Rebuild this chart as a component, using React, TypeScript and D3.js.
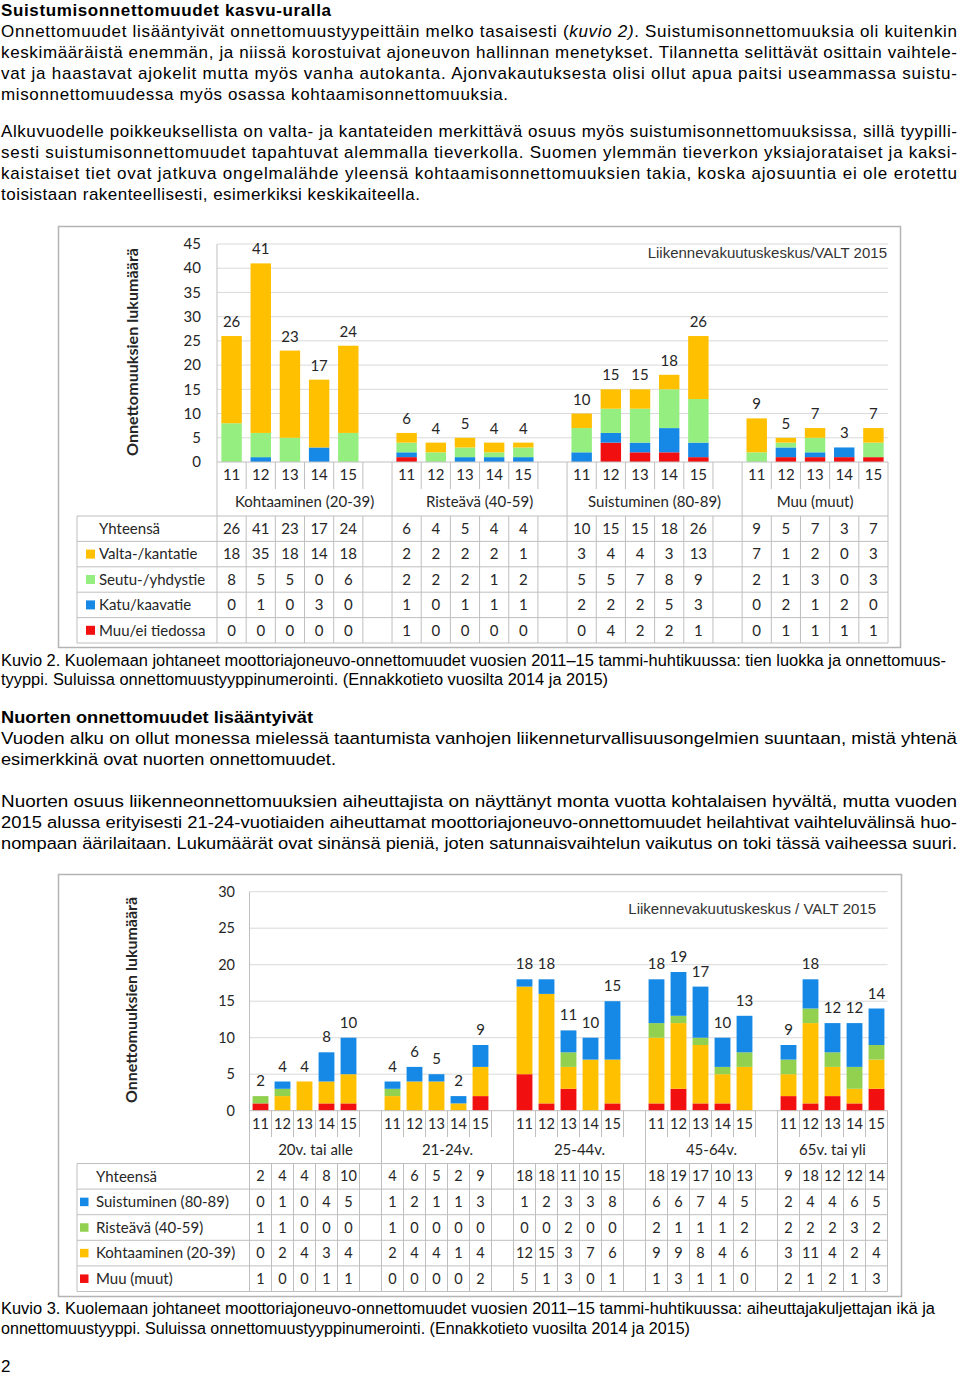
import React from "react";
import * as d3 from "d3";

// ---------- DATA ----------
const years = ["11", "12", "13", "14", "15"];

// Kuvio 2
const roadGroups = ["Kohtaaminen (20-39)", "Risteävä (40-59)", "Suistuminen (80-89)", "Muu (muut)"];
const roadTotals = [26, 41, 23, 17, 24, 6, 4, 5, 4, 4, 10, 15, 15, 18, 26, 9, 5, 7, 3, 7];
const valtaKanta = [18, 35, 18, 14, 18, 2, 2, 2, 2, 1, 3, 4, 4, 3, 13, 7, 1, 2, 0, 3];
const seutuYhdys = [8, 5, 5, 0, 6, 2, 2, 2, 1, 2, 5, 5, 7, 8, 9, 2, 1, 3, 0, 3];
const katuKaava = [0, 1, 0, 3, 0, 1, 0, 1, 1, 1, 2, 2, 2, 5, 3, 0, 2, 1, 2, 0];
const muuEiTiedossa = [0, 0, 0, 0, 0, 1, 0, 0, 0, 0, 0, 4, 2, 2, 1, 0, 1, 1, 1, 1];

// Kuvio 3
const ageGroups = ["20v. tai alle", "21-24v.", "25-44v.", "45-64v.", "65v. tai yli"];
const ageTotals = [2, 4, 4, 8, 10, 4, 6, 5, 2, 9, 18, 18, 11, 10, 15, 18, 19, 17, 10, 13, 9, 18, 12, 12, 14];
const suistuminen = [0, 1, 0, 4, 5, 1, 2, 1, 1, 3, 1, 2, 3, 3, 8, 6, 6, 7, 4, 5, 2, 4, 4, 6, 5];
const risteava = [1, 1, 0, 0, 0, 1, 0, 0, 0, 0, 0, 0, 2, 0, 0, 2, 1, 1, 1, 2, 2, 2, 2, 3, 2];
const kohtaaminen = [0, 2, 4, 3, 4, 2, 4, 4, 1, 4, 12, 15, 3, 7, 6, 9, 9, 8, 4, 6, 3, 11, 4, 2, 4];
const muuMuut = [1, 0, 0, 1, 1, 0, 0, 0, 0, 2, 5, 1, 3, 0, 1, 1, 3, 1, 1, 0, 2, 1, 2, 1, 3];

// ---------- STYLE ----------
const BODY = '"Liberation Sans", Arial, Helvetica, sans-serif';
const NARROW = '"Liberation Sans Narrow", "Liberation Sans", Arial, sans-serif';
const CHART = 'Lato, Carlito, Calibri, "Open Sans", sans-serif';
const YELLOW = "#FFC000";
const GREEN1 = "#95EE80";
const GREEN2 = "#92D050";
const BLUE = "#1689E6";
const RED = "#F20F0F";
const GRID = "#d9d9d9";
const AXIS = "#bfbfbf";

type Series = { name: string; color: string | null; values: number[] };

type Slot = { key: string; group: number; year: string | null; di: number };

function buildSlots(groups: string[]): Slot[] {
  const slots: Slot[] = [];
  let di = 0;
  groups.forEach((g, gi) => {
    years.forEach((yr) => slots.push({ key: `${gi}-${yr}`, group: gi, year: yr, di: di++ }));
    if (gi < groups.length - 1) slots.push({ key: `${gi}-b`, group: gi, year: null, di: -1 });
  });
  return slots;
}

function StackedChart(props: any) {
  const { L, groups, rows, totals, yMax, yStep, source, fs, tfs, labelOffset, title } = props;
  const slots = buildSlots(groups);
  const x = d3.scaleBand<string>().domain(slots.map((s) => s.key)).range([L.plotLeft, L.plotRight]);
  const y = d3.scaleLinear().domain([0, yMax]).range([L.y0, L.yTop]);
  const step = x.bandwidth();
  const barW = step * L.barFrac;
  const series: Series[] = rows.slice(1);
  const stackOrder = [...series].reverse();
  const dataSlots = slots.filter((s) => s.di >= 0);
  const dataRows = dataSlots.map((s) => {
    const o: any = { key: s.key };
    stackOrder.forEach((se) => (o[se.name] = se.values[s.di]));
    return o;
  });
  const layers = d3.stack<any>().keys(stackOrder.map((s) => s.name))(dataRows);
  const tableBottom = L.tableTop + L.rowH * rows.length;
  const ticks = d3.range(0, yMax + 1, yStep);

  const boundaries = slots.slice(1).map((s, i) => ({
    x: x(s.key)!,
    group: slots[i].year === null,
  }));

  return (
    <g>
      <rect x={L.fx} y={L.fy} width={L.fw} height={L.fh} fill="#fff" stroke="#b4b4b4" strokeWidth={1.5} />
      {ticks.filter((t) => t > 0).map((t) => (
        <line key={t} x1={L.plotLeft} x2={L.plotRight} y1={y(t)} y2={y(t)} stroke={GRID} />
      ))}
      {ticks.map((t) => (
        <text key={t} x={L.yLabelX} y={y(t)} dy="0.35em" textAnchor="end" fontFamily={CHART} fontSize={fs} fill="#262626">
          {t}
        </text>
      ))}
      <text
        transform={`translate(${L.titleX},${L.titleY}) rotate(-90)`}
        textAnchor="middle"
        dy="0.35em"
        fontFamily={CHART}
        fontWeight="bold"
        fontSize={15}
        fill="#262626"
        textLength={L.titleLen}
        lengthAdjust="spacingAndGlyphs"
      >
        {title}
      </text>
      <text x={L.srcX} y={L.srcY} textAnchor="end" fontFamily={BODY} fontSize={15} fill="#333">
        {source}
      </text>
      {layers.map((layer, li) => (
        <g key={layer.key} fill={stackOrder[li].color!}>
          {layer.map((d, i) =>
            d[1] - d[0] > 0 ? (
              <rect
                key={i}
                x={x(dataSlots[i].key)! + (step - barW) / 2}
                width={barW}
                y={y(d[1])}
                height={y(d[0]) - y(d[1])}
              />
            ) : null
          )}
        </g>
      ))}
      {dataSlots.map((s) => (
        <text
          key={s.key}
          x={x(s.key)! + step / 2}
          y={y(totals[s.di]) - labelOffset}
          textAnchor="middle"
          fontFamily={CHART}
          fontSize={15}
          fill="#262626"
        >
          {totals[s.di]}
        </text>
      ))}
      {/* axes / category lines */}
      <line x1={L.plotLeft} x2={L.plotRight} y1={L.y0} y2={L.y0} stroke={AXIS} />
      <line x1={L.plotLeft} x2={L.plotLeft} y1={L.yTop} y2={tableBottom} stroke={AXIS} />
      <line x1={L.plotRight} x2={L.plotRight} y1={L.y0} y2={tableBottom} stroke={AXIS} />
      {boundaries.map((b, i) => (
        <g key={i}>
          <line x1={b.x} x2={b.x} y1={L.y0} y2={b.group ? tableBottom : L.yearBottom} stroke={AXIS} />
          {!b.group && <line x1={b.x} x2={b.x} y1={L.tableTop} y2={tableBottom} stroke={AXIS} />}
        </g>
      ))}
      {dataSlots.map((s) => (
        <text key={s.key} x={x(s.key)! + step / 2} y={L.yearY} dy="0.35em" textAnchor="middle" fontFamily={CHART} fontSize={fs} fill="#262626">
          {s.year}
        </text>
      ))}
      {groups.map((g: string, gi: number) => {
        const gs = slots.filter((s) => s.group === gi);
        const x0 = x(gs[0].key)!;
        const x1 = x(gs[gs.length - 1].key)! + step;
        return (
          <text key={g} x={(x0 + x1) / 2} y={L.groupY} dy="0.35em" textAnchor="middle" fontFamily={CHART} fontSize={15} fill="#262626">
            {g}
          </text>
        );
      })}
      {/* data table */}
      {d3.range(rows.length + 1).map((r) => (
        <line key={r} x1={L.tableLeft} x2={L.plotRight} y1={L.tableTop + r * L.rowH} y2={L.tableTop + r * L.rowH} stroke={AXIS} />
      ))}
      <line x1={L.tableLeft} x2={L.tableLeft} y1={L.tableTop} y2={tableBottom} stroke={AXIS} />
      {rows.map((row: Series, r: number) => {
        const cy = L.tableTop + (r + 0.5) * L.rowH;
        return (
          <g key={row.name}>
            {row.color && (
              <rect x={L.markX} y={cy - L.markS / 2} width={L.markS} height={L.markS} fill={row.color} />
            )}
            <text x={L.rowLabelX} y={cy} dy="0.35em" fontFamily={CHART} fontSize={15} fill="#262626">
              {row.name}
            </text>
            {dataSlots.map((s) => (
              <text key={s.key} x={x(s.key)! + step / 2} y={cy} dy="0.35em" textAnchor="middle" fontFamily={CHART} fontSize={tfs} fill="#262626">
                {row.values[s.di]}
              </text>
            ))}
          </g>
        );
      })}
    </g>
  );
}

type Part = [string, string];
function Prose({ y, w, parts, font, size, bold, adjust, sx = 1 }: any) {
  return (
    <g transform={`scale(${sx},1)`}>
      <text
        x={1 / sx}
        y={y}
        textLength={(w - 1) / sx}
        lengthAdjust={adjust}
        fontFamily={font}
        fontSize={size}
        fontWeight={bold ? "bold" : "normal"}
        fill="#000"
      >
        {(parts as Part[]).map((p, i) => (
          <tspan key={i} fontStyle={p[1] === "i" ? "italic" : "normal"}>
            {p[0]}
          </tspan>
        ))}
      </text>
    </g>
  );
}

const topLines: any[] = [
  { y: 16, w: 331, bold: true, parts: [["Suistumisonnettomuudet kasvu-uralla", ""]] },
  { y: 37, w: 957, parts: [["Onnettomuudet lisääntyivät onnettomuustyypeittäin melko tasaisesti (", ""], ["kuvio 2)", "i"], [". Suistumisonnettomuuksia oli kuitenkin", ""]] },
  { y: 58, w: 957, parts: [["keskimääräistä enemmän, ja niissä korostuivat ajoneuvon hallinnan menetykset. Tilannetta selittävät osittain vaihtele-", ""]] },
  { y: 79, w: 957, parts: [["vat ja haastavat ajokelit mutta myös vanha autokanta. Ajonvakautuksesta olisi ollut apua paitsi useammassa suistu-", ""]] },
  { y: 100, w: 508, parts: [["misonnettomuudessa myös osassa kohtaamisonnettomuuksia.", ""]] },
  { y: 137, w: 957, parts: [["Alkuvuodelle poikkeuksellista on valta- ja kantateiden merkittävä osuus myös suistumisonnettomuuksissa, sillä tyypilli-", ""]] },
  { y: 158, w: 957, parts: [["sesti suistumisonnettomuudet tapahtuvat alemmalla tieverkolla. Suomen ylemmän tieverkon yksiajorataiset ja kaksi-", ""]] },
  { y: 179, w: 957, parts: [["kaistaiset tiet ovat jatkuva ongelmalähde yleensä kohtaamisonnettomuuksien takia, koska ajosuuntia ei ole erotettu", ""]] },
  { y: 200, w: 420, parts: [["toisistaan rakenteellisesti, esimerkiksi keskikaiteella.", ""]] },
];

const narrowLines: any[] = [
  { y: 666, w: 946, parts: [["Kuvio 2. Kuolemaan johtaneet moottoriajoneuvo-onnettomuudet vuosien 2011–15 tammi-huhtikuussa: tien luokka ja onnettomuus-", ""]] },
  { y: 685, w: 608, parts: [["tyyppi. Suluissa onnettomuustyyppinumerointi. (Ennakkotieto vuosilta 2014 ja 2015)", ""]] },
  { y: 723, w: 313, bold: true, parts: [["Nuorten onnettomuudet lisääntyivät", ""]] },
  { y: 744, w: 957, parts: [["Vuoden alku on ollut monessa mielessä taantumista vanhojen liikenneturvallisuusongelmien suuntaan, mistä yhtenä", ""]] },
  { y: 765, w: 336, parts: [["esimerkkinä ovat nuorten onnettomuudet.", ""]] },
  { y: 807, w: 957, parts: [["Nuorten osuus liikenneonnettomuuksien aiheuttajista on näyttänyt monta vuotta kohtalaisen hyvältä, mutta vuoden", ""]] },
  { y: 828, w: 957, parts: [["2015 alussa erityisesti 21-24-vuotiaiden aiheuttamat moottoriajoneuvo-onnettomuudet heilahtivat vaihteluvälinsä huo-", ""]] },
  { y: 849, w: 957, parts: [["nompaan äärilaitaan. Lukumäärät ovat sinänsä pieniä, joten satunnaisvaihtelun vaikutus on toki tässä vaiheessa suuri.", ""]] },
  { y: 1314, w: 935, parts: [["Kuvio 3. Kuolemaan johtaneet moottoriajoneuvo-onnettomuudet vuosien 2011–15 tammi-huhtikuussa: aiheuttajakuljettajan ikä ja", ""]] },
  { y: 1334, w: 690, parts: [["onnettomuustyyppi. Suluissa onnettomuustyyppinumerointi. (Ennakkotieto vuosilta 2014 ja 2015)", ""]] },
];

const L1 = {
  fx: 58.5, fy: 226.5, fw: 842, fh: 421,
  plotLeft: 217, plotRight: 888, yTop: 244, y0: 462,
  yearBottom: 489, yearY: 475, groupY: 502,
  tableTop: 516, rowH: 25.4, tableLeft: 77,
  yLabelX: 201, titleX: 133, titleY: 352, titleLen: 208,
  srcX: 887, srcY: 258, barFrac: 0.7,
  markX: 86, markS: 9, rowLabelX: 99,
};

const L2 = {
  fx: 58.5, fy: 874.5, fw: 843, fh: 422,
  plotLeft: 249.5, plotRight: 887.5, yTop: 891.7, y0: 1110.7,
  yearBottom: 1137, yearY: 1124, groupY: 1150,
  tableTop: 1163.5, rowH: 25.6, tableLeft: 77,
  yLabelX: 235, titleX: 132, titleY: 1000, titleLen: 206,
  srcX: 876, srcY: 914, barFrac: 0.72,
  markX: 80, markS: 8.5, rowLabelX: 96,
};

export default function App() {
  const rows1: Series[] = [
    { name: "Yhteensä", color: null, values: roadTotals },
    { name: "Valta-/kantatie", color: YELLOW, values: valtaKanta },
    { name: "Seutu-/yhdystie", color: GREEN1, values: seutuYhdys },
    { name: "Katu/kaavatie", color: BLUE, values: katuKaava },
    { name: "Muu/ei tiedossa", color: RED, values: muuEiTiedossa },
  ];
  const rows2: Series[] = [
    { name: "Yhteensä", color: null, values: ageTotals },
    { name: "Suistuminen (80-89)", color: BLUE, values: suistuminen },
    { name: "Risteävä (40-59)", color: GREEN2, values: risteava },
    { name: "Kohtaaminen (20-39)", color: YELLOW, values: kohtaaminen },
    { name: "Muu (muut)", color: RED, values: muuMuut },
  ];
  return (
    <svg
      width={960}
      height={1377}
      viewBox="0 0 960 1377"
      style={{ position: "absolute", left: 0, top: 0, background: "#fff" }}
    >
      <rect width={960} height={1377} fill="#fff" />
      {topLines.map((l, i) => (
        <Prose key={i} {...l} font={BODY} size={17} adjust="spacing" />
      ))}
      <StackedChart
        L={L1}
        groups={roadGroups}
        rows={rows1}
        totals={roadTotals}
        yMax={45}
        yStep={5}
        source="Liikennevakuutuskeskus/VALT 2015"
        fs={15}
        tfs={15}
        labelOffset={9}
        title="Onnettomuuksien lukumäärä"
      />
      {narrowLines.map((l, i) => (
        <Prose key={i} {...l} font={NARROW} size={17} sx={0.86} adjust="spacingAndGlyphs" />
      ))}
      <StackedChart
        L={L2}
        groups={ageGroups}
        rows={rows2}
        totals={ageTotals}
        yMax={30}
        yStep={5}
        source="Liikennevakuutuskeskus / VALT 2015"
        fs={14.5}
        tfs={14.5}
        labelOffset={10}
        title="Onnettomuuksien lukumäärä"
      />
      <text x={1} y={1372} fontFamily={NARROW} fontSize={17}>
        2
      </text>
    </svg>
  );
}
